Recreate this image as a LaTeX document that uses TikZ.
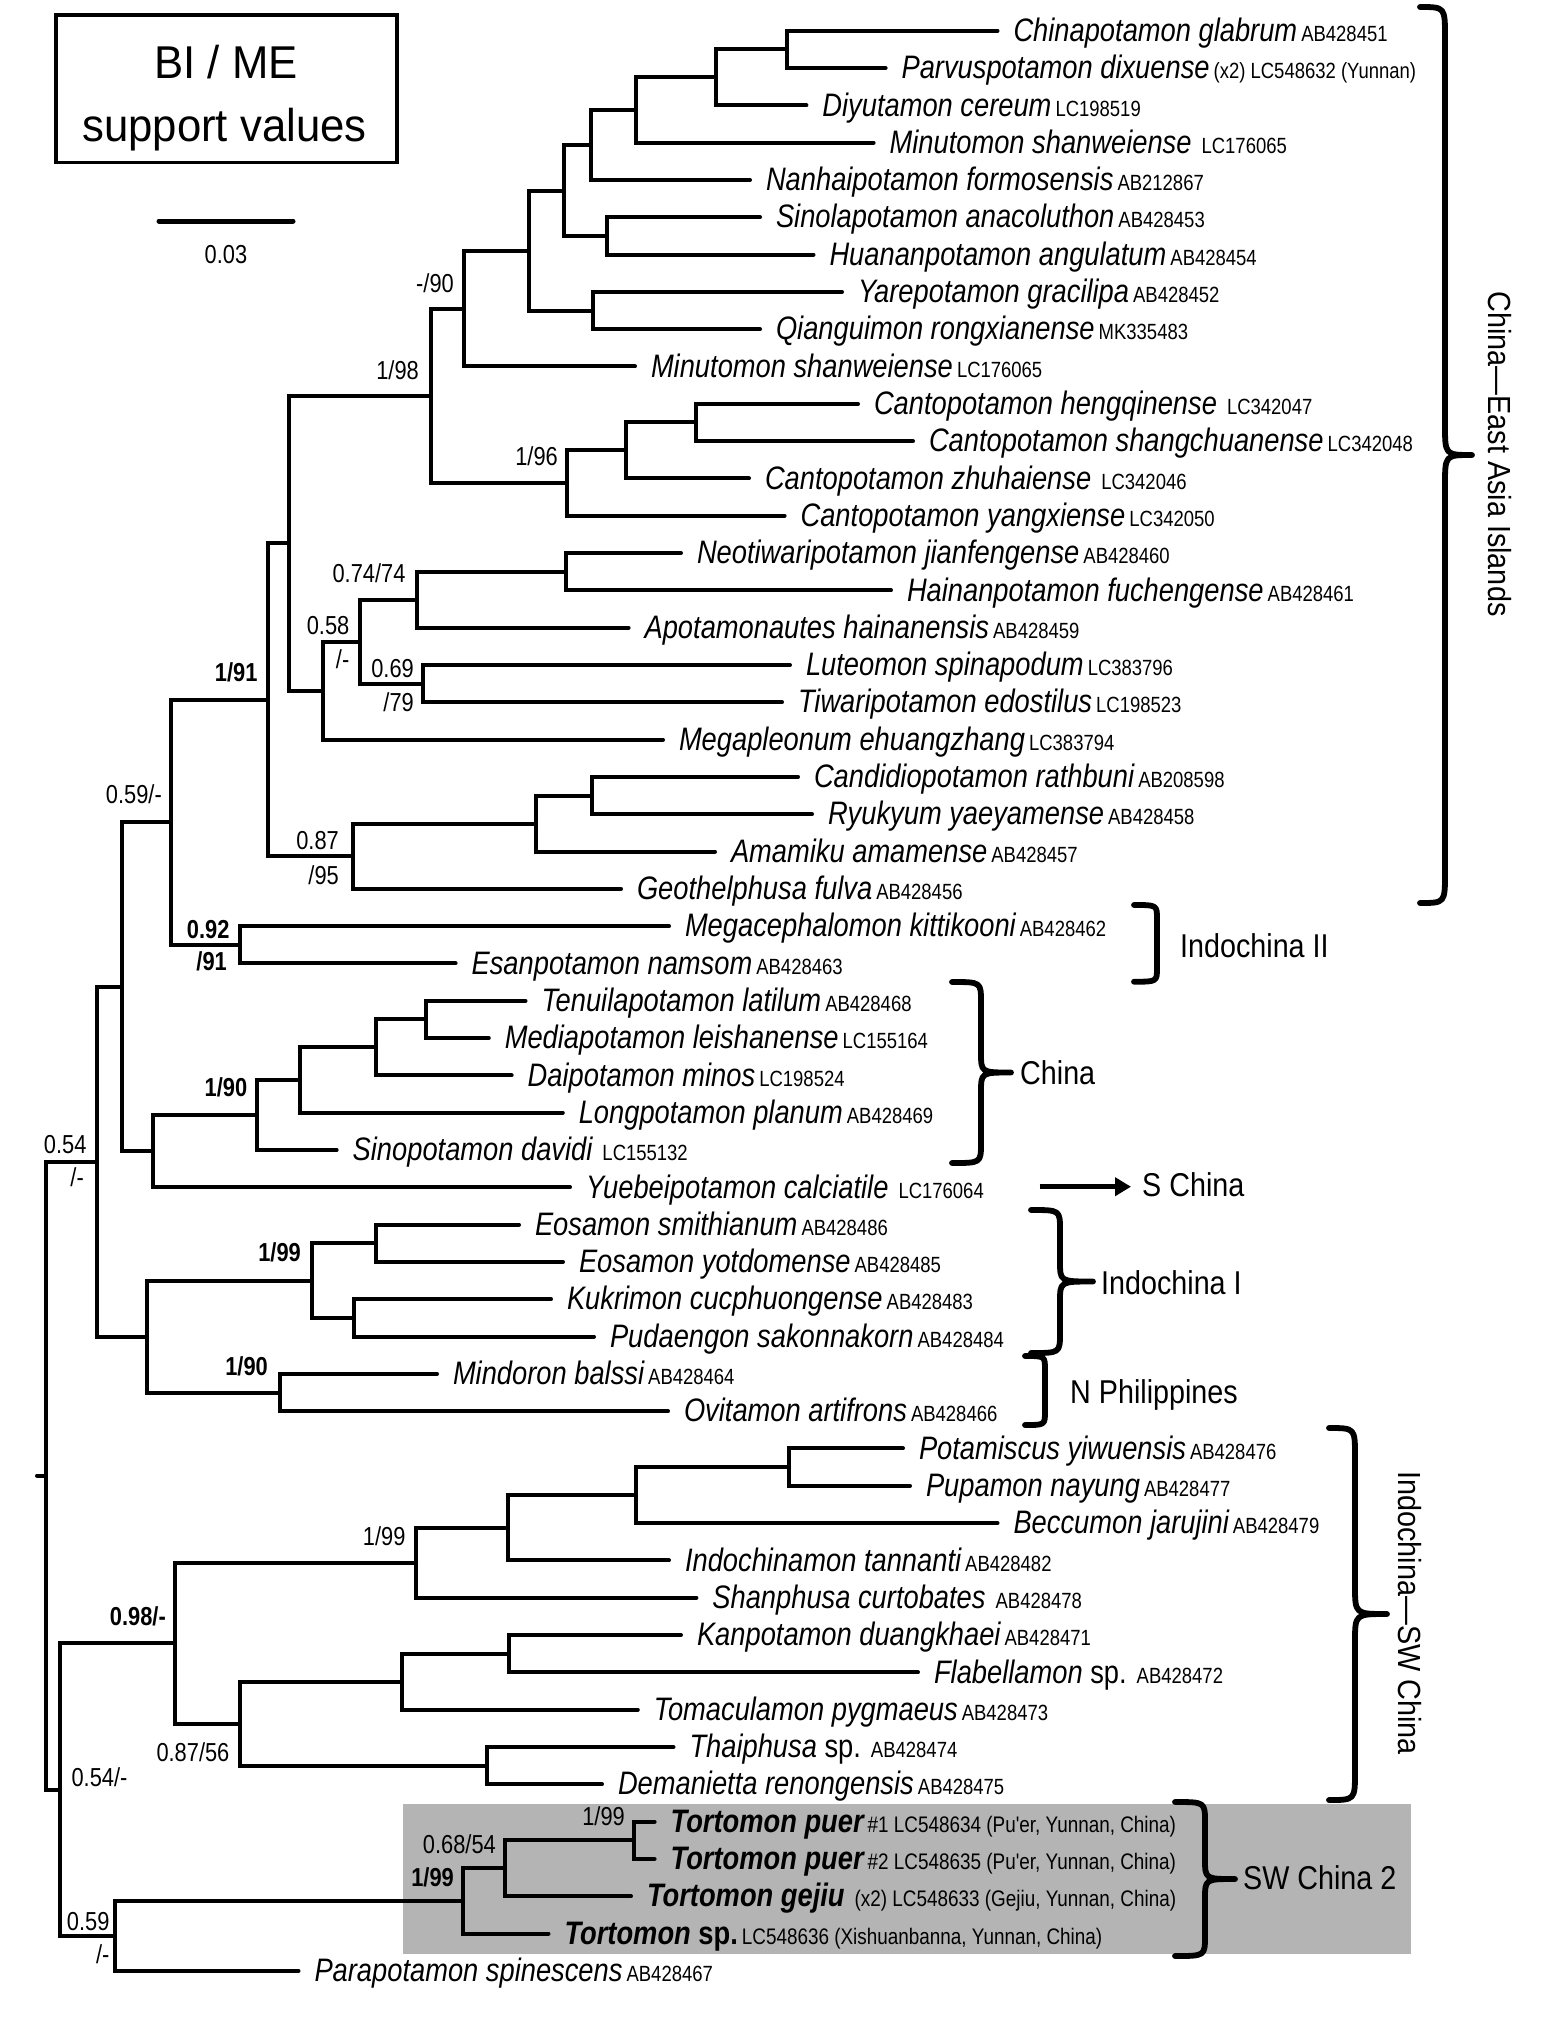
\documentclass[tikz,border=0pt]{standalone}
\usepackage{fontspec}
\usetikzlibrary{arrows.meta}
\newfontfamily\tf{Liberation Sans}[FakeStretch=0.84]
\newfontfamily\rf{Liberation Sans}[FakeStretch=0.87]
\newfontfamily\bxf{Liberation Sans}[FakeStretch=0.95]
\newfontfamily\vf{Liberation Sans}[FakeStretch=0.9]
\definecolor{boxgray}{RGB}{180,180,180}
\newcommand\spn[1]{{\tf\itshape\fontsize{32.5}{32.5}\selectfont #1}}
\newcommand\spb[1]{{\tf\bfseries\itshape\fontsize{32.5}{32.5}\selectfont #1}}
\newcommand\upn[1]{{\tf\fontsize{32.5}{32.5}\selectfont #1}}
\newcommand\upb[1]{{\tf\bfseries\fontsize{32.5}{32.5}\selectfont #1}}
\newcommand\accn[1]{{\tf\fontsize{22}{22}\selectfont\hspace{4pt}#1}}
\newcommand\accw[1]{{\tf\fontsize{22}{22}\selectfont\hspace{10pt}#1}}
\newcommand\acct[1]{{\tf\fontsize{22.5}{22.5}\selectfont\hspace{4pt}#1}}
\newcommand\mytip[3]{%
  \coordinate (t#1) at (#2,{30.7+37.31*#1});
  \node[tiplab] (t#1l) at ([xshift=16pt,yshift=-10.7pt]t#1) {#3};}
\newcommand\ed[3]{\draw[br] (#1) |- (#2) (#1) |- (#3);}
% curly brace: x_end, x_vert, x_tip, y_top, y_bot, radius
\newcommand\cbrace[6]{%
  \pgfmathsetmacro\ymid{(#4+#5)/2}
  \draw[brc] (#1,#4) .. controls (#2,#4) and (#2,#4) .. (#2,{#4+#6})
    -- (#2,{\ymid-#6}) .. controls (#2,\ymid) and (#2,\ymid) .. (#3,\ymid)
    .. controls (#2,\ymid) and (#2,\ymid) .. (#2,{\ymid+#6})
    -- (#2,{#5-#6}) .. controls (#2,#5) and (#2,#5) .. (#1,#5);}
% square bracket: x_end, x_vert, y_top, y_bot
\newcommand\sbrk[4]{%
  \draw[brc] (#1,#3) .. controls (#2,#3) and (#2,#3) .. (#2,{#3+14})
    -- (#2,{#4-14}) .. controls (#2,#4) and (#2,#4) .. (#1,#4);}
\begin{document}
\begin{tikzpicture}[x=1pt,y=-1pt,
  br/.style={line width=4pt, line cap=round},
  brc/.style={line width=5.8pt, line cap=round, line join=round},
  tiplab/.style={anchor=base west, inner sep=0pt, outer sep=0pt},
  sv/.style={inner sep=0pt, font=\tf\fontsize{26}{26}\selectfont},
  svb/.style={inner sep=0pt, font=\tf\bfseries\fontsize{26}{26}\selectfont},
  reg/.style={anchor=base west, inner sep=0pt, font=\rf\fontsize{33}{33}\selectfont},
  vreg/.style={rotate=-90, inner sep=0pt, font=\vf\fontsize{32}{32}\selectfont}]
\useasboundingbox (0,0) rectangle (1556,2019);
\fill[white] (0,0) rectangle (1556,2019);
\fill[boxgray] (403,1804) rectangle (1411,1954.3);

% legend
\node[draw, line width=3.5pt, minimum width=341pt, minimum height=147.3pt, inner sep=0pt] (legend) at (226.5,88.65) {};
\node[anchor=base, inner sep=0pt, font=\bxf\fontsize{46}{46}\selectfont] (lg1) at (226,78) {BI / ME};
\node[anchor=base, inner sep=0pt, font=\bxf\fontsize{46}{46}\selectfont] (lg2) at (224.5,141) {support values};
\coordinate (sb1) at (159,221);
\coordinate (sb2) at (293,221);
\draw[line width=5pt, line cap=round] (sb1) -- (sb2);
\node[sv, anchor=base] (sbl) at (226,263) {0.03};

% tips
\mytip{0}{997.5}{\spn{Chinapotamon glabrum}\accn{AB428451}}
\mytip{1}{885.6}{\spn{Parvuspotamon dixuense}\accn{(x2) LC548632 (Yunnan)}}
\mytip{2}{806.4}{\spn{Diyutamon cereum}\accn{LC198519}}
\mytip{3}{873.6}{\spn{Minutomon shanweiense}\accw{LC176065}}
\mytip{4}{750}{\spn{Nanhaipotamon formosensis}\accn{AB212867}}
\mytip{5}{760}{\spn{Sinolapotamon anacoluthon}\accn{AB428453}}
\mytip{6}{813.5}{\spn{Huananpotamon angulatum}\accn{AB428454}}
\mytip{7}{842}{\spn{Yarepotamon gracilipa}\accn{AB428452}}
\mytip{8}{760}{\spn{Qianguimon rongxianense}\accn{MK335483}}
\mytip{9}{635}{\spn{Minutomon shanweiense}\accn{LC176065}}
\mytip{10}{858}{\spn{Cantopotamon hengqinense}\accw{LC342047}}
\mytip{11}{913}{\spn{Cantopotamon shangchuanense}\accn{LC342048}}
\mytip{12}{749}{\spn{Cantopotamon zhuhaiense}\accw{LC342046}}
\mytip{13}{784.6}{\spn{Cantopotamon yangxiense}\accn{LC342050}}
\mytip{14}{681}{\spn{Neotiwaripotamon jianfengense}\accn{AB428460}}
\mytip{15}{891}{\spn{Hainanpotamon fuchengense}\accn{AB428461}}
\mytip{16}{628.6}{\spn{Apotamonautes hainanensis}\accn{AB428459}}
\mytip{17}{790}{\spn{Luteomon spinapodum}\accn{LC383796}}
\mytip{18}{782}{\spn{Tiwaripotamon edostilus}\accn{LC198523}}
\mytip{19}{663}{\spn{Megapleonum ehuangzhang}\accn{LC383794}}
\mytip{20}{798}{\spn{Candidiopotamon rathbuni}\accn{AB208598}}
\mytip{21}{812}{\spn{Ryukyum yaeyamense}\accn{AB428458}}
\mytip{22}{715}{\spn{Amamiku amamense}\accn{AB428457}}
\mytip{23}{621}{\spn{Geothelphusa fulva}\accn{AB428456}}
\mytip{24}{669}{\spn{Megacephalomon kittikooni}\accn{AB428462}}
\mytip{25}{455.6}{\spn{Esanpotamon namsom}\accn{AB428463}}
\mytip{26}{525.5}{\spn{Tenuilapotamon latilum}\accn{AB428468}}
\mytip{27}{488.8}{\spn{Mediapotamon leishanense}\accn{LC155164}}
\mytip{28}{511.7}{\spn{Daipotamon minos}\accn{LC198524}}
\mytip{29}{562.8}{\spn{Longpotamon planum}\accn{AB428469}}
\mytip{30}{336.7}{\spn{Sinopotamon davidi}\accw{LC155132}}
\mytip{31}{570}{\spn{Yuebeipotamon calciatile}\accw{LC176064}}
\mytip{32}{519}{\spn{Eosamon smithianum}\accn{AB428486}}
\mytip{33}{563}{\spn{Eosamon yotdomense}\accn{AB428485}}
\mytip{34}{551}{\spn{Kukrimon cucphuongense}\accn{AB428483}}
\mytip{35}{594}{\spn{Pudaengon sakonnakorn}\accn{AB428484}}
\mytip{36}{437}{\spn{Mindoron balssi}\accn{AB428464}}
\mytip{37}{668}{\spn{Ovitamon artifrons}\accn{AB428466}}
\mytip{38}{903}{\spn{Potamiscus yiwuensis}\accn{AB428476}}
\mytip{39}{910}{\spn{Pupamon nayung}\accn{AB428477}}
\mytip{40}{997.5}{\spn{Beccumon jarujini}\accn{AB428479}}
\mytip{41}{669}{\spn{Indochinamon tannanti}\accn{AB428482}}
\mytip{42}{696.4}{\spn{Shanphusa curtobates}\accw{AB428478}}
\mytip{43}{681}{\spn{Kanpotamon duangkhaei}\accn{AB428471}}
\mytip{44}{918}{\spn{Flabellamon}\upn{~sp.}\accw{AB428472}}
\mytip{45}{637.8}{\spn{Tomaculamon pygmaeus}\accn{AB428473}}
\mytip{46}{673.5}{\spn{Thaiphusa}\upn{~sp.}\accw{AB428474}}
\mytip{47}{602}{\spn{Demanietta renongensis}\accn{AB428475}}
\mytip{48}{654.6}{\spb{Tortomon puer}\acct{\#1 LC548634 (Pu'er, Yunnan, China)}}
\mytip{49}{654.6}{\spb{Tortomon puer}\acct{\#2 LC548635 (Pu'er, Yunnan, China)}}
\mytip{50}{631}{\spb{Tortomon gejiu}\acct{\hspace{6pt}(x2) LC548633 (Gejiu, Yunnan, China)}}
\mytip{51}{548.5}{\spb{Tortomon}\upb{~sp.}\acct{LC548636 (Xishuanbanna, Yunnan, China)}}
\mytip{52}{298.5}{\spn{Parapotamon spinescens}\accn{AB428467}}

% internal nodes
\coordinate (a1) at (787,49.35);
\coordinate (a2) at (716,77.3);
\coordinate (a3) at (636,110.0);
\coordinate (a4) at (591,145.0);
\coordinate (a5) at (607,235.95);
\coordinate (a6) at (564,190.5);
\coordinate (a7) at (593,310.55);
\coordinate (a8) at (529,250.5);
\coordinate (a9) at (464,308.5);
\coordinate (c1) at (696,422.45);
\coordinate (c2) at (626,450.4);
\coordinate (c3) at (567,483.05);
\coordinate (a10) at (431,395.8);
\coordinate (b1) at (566,571.7);
\coordinate (b2) at (417,599.7);
\coordinate (b3) at (423,683.65);
\coordinate (b4) at (360,641.7);
\coordinate (b5) at (323,690.65);
\coordinate (a11) at (289,543.2);
\coordinate (d1) at (592,795.55);
\coordinate (d2) at (536,823.5);
\coordinate (d3) at (353,856.15);
\coordinate (a12) at (268,699.7);
\coordinate (e1) at (240,944.8);
\coordinate (a13) at (171,822.25);
\coordinate (f1) at (426,1019.45);
\coordinate (f2) at (376,1047.4);
\coordinate (f3) at (299.5,1080.05);
\coordinate (f4) at (256.6,1115.0);
\coordinate (f5) at (153,1151.15);
\coordinate (a14) at (122,986.7);
\coordinate (g1) at (376,1243.25);
\coordinate (g2) at (353.6,1317.9);
\coordinate (g3) at (312,1280.6);
\coordinate (g4) at (279.6,1392.55);
\coordinate (g5) at (147,1336.6);
\coordinate (a15) at (97,1161.65);
\coordinate (h1) at (789,1467.15);
\coordinate (h2) at (636,1495.1);
\coordinate (h3) at (507.7,1527.75);
\coordinate (h4) at (416,1562.7);
\coordinate (h5) at (508.7,1653.65);
\coordinate (h6) at (401.5,1681.7);
\coordinate (h7) at (487,1765.65);
\coordinate (h8) at (240,1723.7);
\coordinate (h9) at (175,1643.2);
\coordinate (k1) at (634,1840.25);
\coordinate (k2) at (505,1868.2);
\coordinate (k3) at (463,1900.85);
\coordinate (k4) at (114.8,1935.8);
\coordinate (a16) at (60,1789.5);
\coordinate (root) at (46,1475.6);
\coordinate (rt) at (37,1475.6);

% edges
\ed{a1}{t0}{t1}
\ed{a2}{a1}{t2}
\ed{a3}{a2}{t3}
\ed{a4}{a3}{t4}
\ed{a5}{t5}{t6}
\ed{a6}{a4}{a5}
\ed{a7}{t7}{t8}
\ed{a8}{a6}{a7}
\ed{a9}{a8}{t9}
\ed{c1}{t10}{t11}
\ed{c2}{c1}{t12}
\ed{c3}{c2}{t13}
\ed{a10}{a9}{c3}
\ed{b1}{t14}{t15}
\ed{b2}{b1}{t16}
\ed{b3}{t17}{t18}
\ed{b4}{b2}{b3}
\ed{b5}{b4}{t19}
\ed{a11}{a10}{b5}
\ed{d1}{t20}{t21}
\ed{d2}{d1}{t22}
\ed{d3}{d2}{t23}
\ed{a12}{a11}{d3}
\ed{e1}{t24}{t25}
\ed{a13}{a12}{e1}
\ed{f1}{t26}{t27}
\ed{f2}{f1}{t28}
\ed{f3}{f2}{t29}
\ed{f4}{f3}{t30}
\ed{f5}{f4}{t31}
\ed{a14}{a13}{f5}
\ed{g1}{t32}{t33}
\ed{g2}{t34}{t35}
\ed{g3}{g1}{g2}
\ed{g4}{t36}{t37}
\ed{g5}{g3}{g4}
\ed{a15}{a14}{g5}
\ed{h1}{t38}{t39}
\ed{h2}{h1}{t40}
\ed{h3}{h2}{t41}
\ed{h4}{h3}{t42}
\ed{h5}{t43}{t44}
\ed{h6}{h5}{t45}
\ed{h7}{t46}{t47}
\ed{h8}{h6}{h7}
\ed{h9}{h4}{h8}
\ed{k1}{t48}{t49}
\ed{k2}{k1}{t50}
\ed{k3}{k2}{t51}
\ed{k4}{k3}{t52}
\ed{a16}{h9}{k4}
\ed{root}{a15}{a16}
\draw[br] (rt) -- (root);

% support values
\node[sv, anchor=base east] (s1) at (454,292) {-/90};
\node[sv, anchor=base east] (s2) at (419,379) {1/98};
\node[sv, anchor=base east] (s3) at (558,465) {1/96};
\node[sv, anchor=base east] (s4) at (405.6,582) {0.74/74};
\node[sv, anchor=base east] (s5) at (349.5,634) {0.58};
\node[sv, anchor=base east] (s6) at (349.5,668) {/-};
\node[sv, anchor=base east] (s7) at (414,677) {0.69};
\node[sv, anchor=base east] (s8) at (414,711) {/79};
\node[svb, anchor=base east] (s9) at (257.7,681) {1/91};
\node[sv, anchor=base east] (s10) at (339,849) {0.87};
\node[sv, anchor=base east] (s11) at (339,884) {/95};
\node[sv, anchor=base east] (s12) at (162,803) {0.59/-};
\node[svb, anchor=base east] (s13) at (229.6,938) {0.92};
\node[svb, anchor=base east] (s14) at (227,970) {/91};
\node[svb, anchor=base east] (s15) at (247.4,1096.7) {1/90};
\node[svb, anchor=base east] (s16) at (301,1261.7) {1/99};
\node[svb, anchor=base east] (s17) at (268,1375) {1/90};
\node[sv, anchor=base east] (s18) at (86.7,1153) {0.54};
\node[sv, anchor=base east] (s19) at (84,1186.7) {/-};
\node[sv, anchor=base east] (s20) at (405.6,1545.5) {1/99};
\node[svb, anchor=base east] (s21) at (166,1625) {0.98/-};
\node[sv, anchor=base east] (s22) at (229.6,1761.7) {0.87/56};
\node[sv, anchor=base west] (s23) at (71.4,1786.5) {0.54/-};
\node[sv, anchor=base east] (s24) at (625,1825) {1/99};
\node[sv, anchor=base east] (s25) at (496,1853) {0.68/54};
\node[svb, anchor=base east] (s26) at (454,1886) {1/99};
\node[sv, anchor=base east] (s27) at (109.7,1930) {0.59};
\node[sv, anchor=base east] (s28) at (109.7,1963) {/-};

% brackets and region labels
\cbrace{1420}{1445}{1472}{7}{903}{30}
\node[vreg] (r1) at (1500,454) {China—East Asia Islands};
\sbrk{1134}{1157}{905}{981.7}
\node[reg] (r2) at (1180,957.5) {Indochina II};
\cbrace{952}{981}{1011}{982}{1163}{20}
\node[reg] (r3) at (1020,1084) {China};
\coordinate (arA) at (1039.5,1186.7);
\coordinate (arB) at (1131,1186.7);
\draw[line width=5pt, -{Triangle[length=16pt,width=18pt]}] (arA) -- (arB);
\node[reg] (r4) at (1142,1196) {S China};
\cbrace{1031}{1060}{1093}{1210}{1353}{20}
\node[reg] (r5) at (1101,1294) {Indochina I};
\sbrk{1025}{1045}{1356}{1425}
\node[reg] (r6) at (1070,1403) {N Philippines};
\cbrace{1329}{1355}{1387}{1428}{1800}{28}
\node[vreg] (r7) at (1410,1613) {Indochina—SW China};
\cbrace{1175}{1205}{1235}{1802}{1956}{20}
\node[reg] (r8) at (1243,1889) {SW China 2};
\end{tikzpicture}
\end{document}
